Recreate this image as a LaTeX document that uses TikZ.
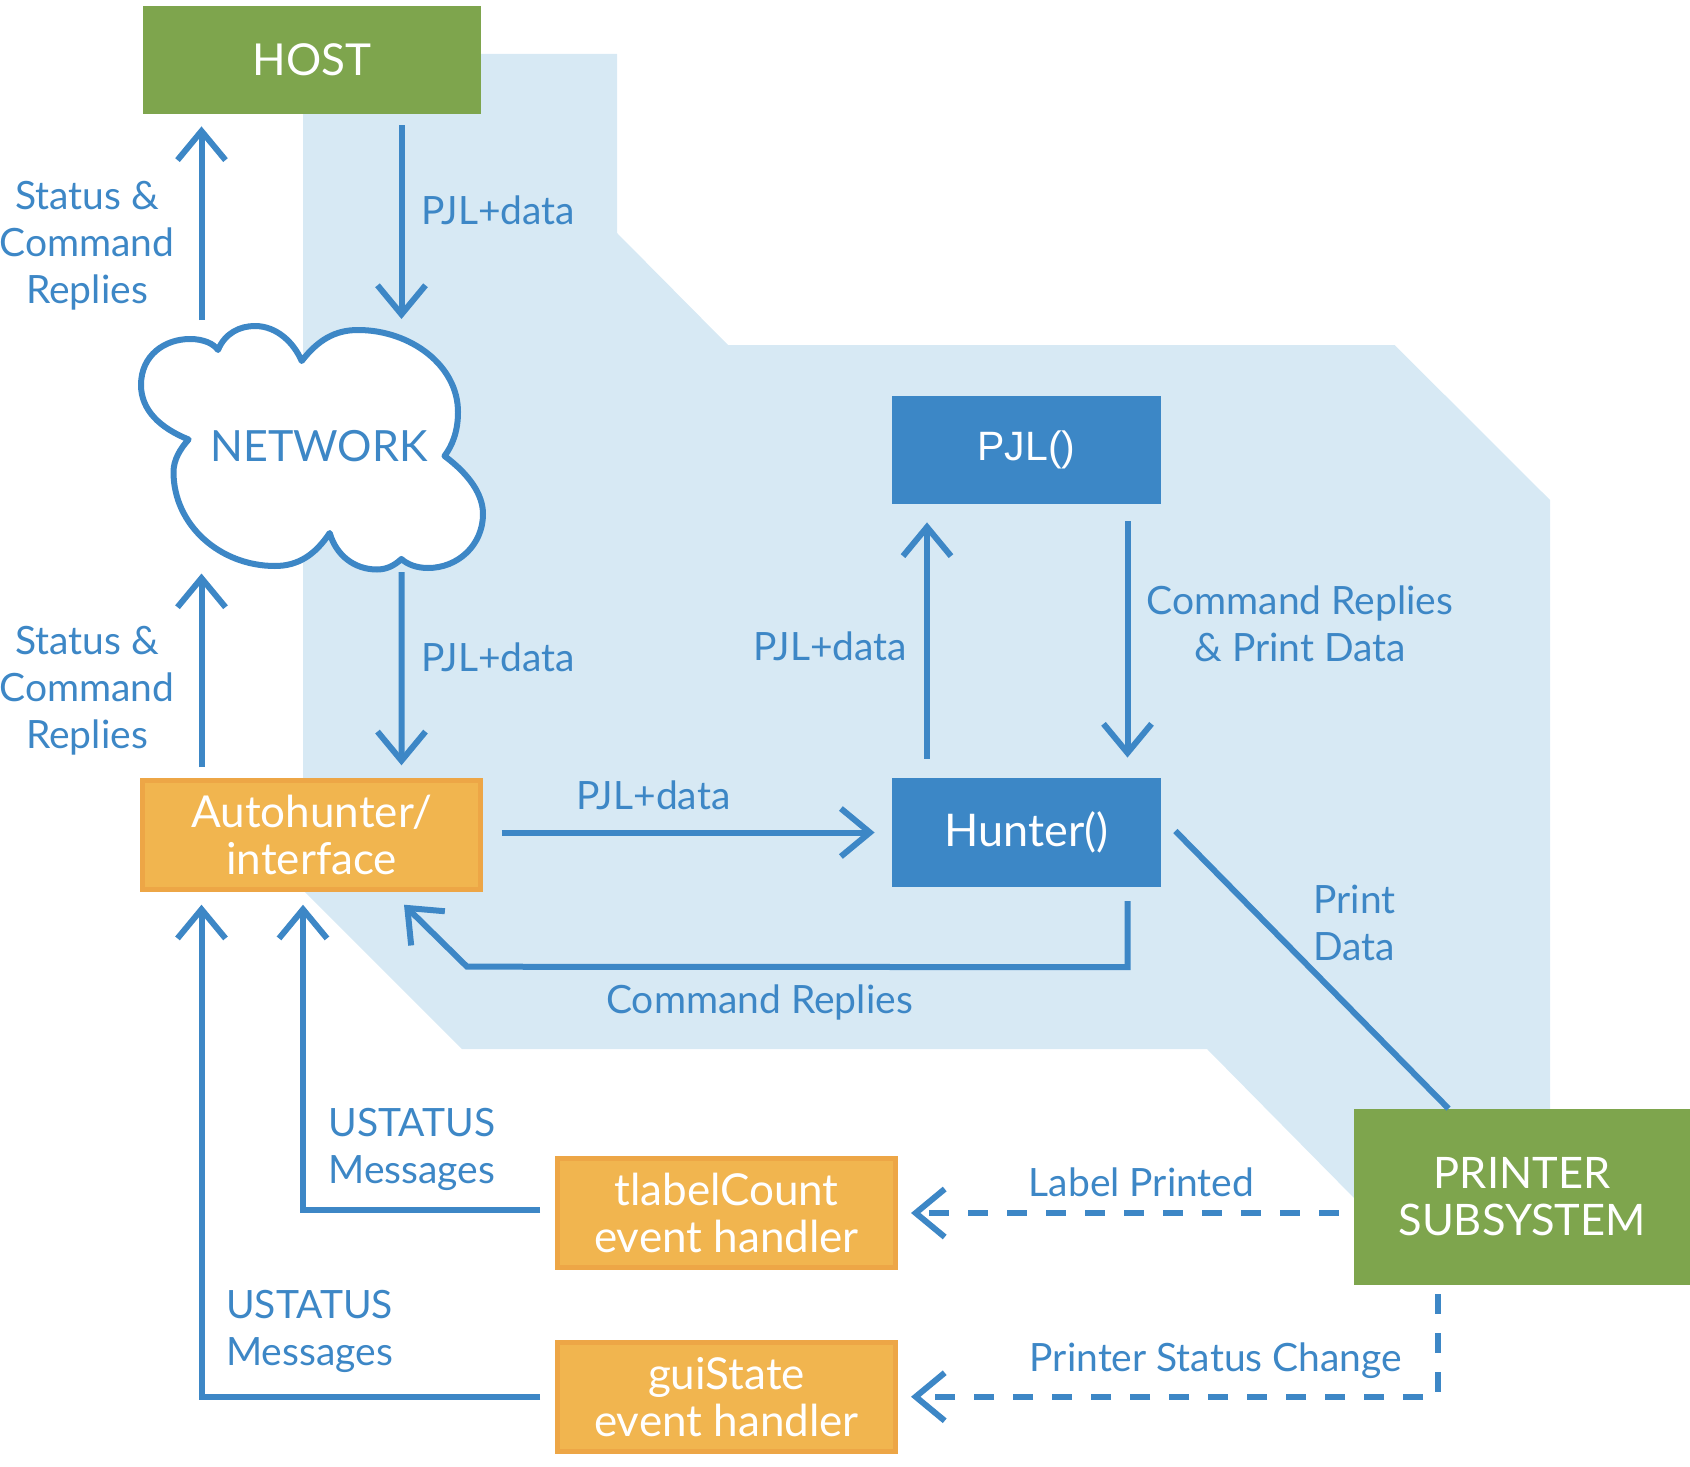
\documentclass[tikz,border=0pt]{standalone}
\usepackage{fontspec}
\setmainfont{Lato}
\newfontfamily\arialf{Liberation Sans}
\usetikzlibrary{arrows.meta,calc}
\definecolor{hostgreen}{RGB}{126,165,77}
\definecolor{boxblue}{RGB}{60,135,198}
\definecolor{lineblue}{RGB}{61,135,198}
\definecolor{bgblue}{RGB}{215,233,244}
\definecolor{orfill}{RGB}{241,181,79}
\definecolor{orborder}{RGB}{237,166,70}
\begin{document}
\begin{tikzpicture}[x=0.5pt,y=-0.5pt,
  arr/.style={draw=lineblue, line width=3pt,
    -{Straight Barb[length=14.5pt,width=24pt,line cap=butt,line join=miter]}},
  dasharr/.style={arr, dash pattern=on 10pt off 9.5pt},
  plainline/.style={draw=lineblue, line width=3pt},
  lbl/.style={text=lineblue, font=\fontsize{19.5pt}{23.5pt}\selectfont, align=center, inner sep=0pt},
  greenbox/.style={fill=hostgreen, text=white, inner sep=0pt, align=center,
    font=\fontsize{22pt}{22pt}\selectfont},
  bluebox/.style={fill=boxblue, text=white, inner sep=0pt, align=center,
    minimum width=134.5pt, minimum height=54.25pt, font=\fontsize{22.5pt}{24pt}\selectfont},
  orangebox/.style={fill=orfill, draw=orborder, line width=2.5pt, text=white, inner sep=0pt,
    align=center, minimum width=169pt, minimum height=54.5pt,
    font=\fontsize{22pt}{23.5pt}\selectfont}
]
\useasboundingbox (0,0) rectangle (1690,1466);

% background region
\fill[bgblue] (303,53.8) -- (617,53.8) -- (617,233) -- (728,345) -- (1394.6,345)
  -- (1550,500) -- (1550,1200) -- (1356,1200) -- (1207,1049) -- (462,1049)
  -- (303,890) -- cycle;

% cloud
\draw[line width=3pt, draw=lineblue, fill=white, line join=round]
 (188.6,439.5) .. controls (160,428) and (141,410) .. (141,385)
 .. controls (141,355) and (165,339) .. (190,339)
 .. controls (204,339) and (214,344) .. (218,350)
 .. controls (225,333) and (240,326) .. (255,326)
 .. controls (277,326) and (294,343) .. (301.7,361)
 .. controls (318,340) and (335,330) .. (358,330)
 .. controls (410,330) and (458,365) .. (458,412)
 .. controls (458,432) and (452,446) .. (444.5,456)
 .. controls (470,475) and (483,495) .. (483,514)
 .. controls (483,545) and (458,568) .. (428,568)
 .. controls (416,568) and (407,564) .. (401.4,559)
 .. controls (394,566) and (386,569.5) .. (377,569.5)
 .. controls (354,569.5) and (336,555) .. (329.7,533)
 .. controls (315,555) and (298,566) .. (275,566)
 .. controls (220,566) and (173.5,525) .. (173.5,472)
 .. controls (173.5,460) and (180,449) .. (188.6,439.5) -- cycle;
\node[text=lineblue, inner sep=0pt, font=\fontsize{21.5pt}{24pt}\selectfont] (net) at (319,446.5) {NETWORK};

% boxes
\node[greenbox, minimum width=169.2pt, minimum height=54pt] (host) at (312,59.6) {HOST};
\node[bluebox, font=\arialf\fontsize{20.5pt}{24pt}\selectfont] (pjl) at (1026.5,449.75) {PJL()};
\node[bluebox] (hunter) at (1026.5,832.5) {Hunter()};
\node[orangebox] (auto) at (311.7,834.7) {Autohunter/\\interface};
\node[orangebox] (tlabel) at (726.5,1213) {tlabelCount\\event handler};
\node[orangebox] (gui) at (726.5,1396.75) {guiState\\event handler};
\node[greenbox, minimum width=168pt, minimum height=88pt, font=\fontsize{21.7pt}{23.5pt}\selectfont]
  (printer) at (1522,1197) {PRINTER\\SUBSYSTEM};

% connectors
\draw[arr] ($(net)+(-117.5,-126.5)$) -- ($(host.south)+(-110.5,12.4)$);
\draw[arr] ($(host.south)+(89.5,11.4)$) -- ($(net)+(82.5,-127.5)$);
\draw[arr] ($(auto.north)+(-110.2,-10.4)$) -- ($(net)+(-117.5,127)$);
\draw[arr] ($(net)+(82.5,125.5)$) -- ($(auto.north)+(89.8,-12.4)$);
\draw[arr] ($(auto.east |- hunter.west)+(18.6,0)$) -- ($(hunter.west)+(-17,0)$);
\draw[arr] ($(hunter.north)+(-99.5,-19)$) -- ($(pjl.south)+(-99.5,18)$);
\draw[arr] ($(pjl.south)+(101,16.6)$) -- ($(hunter.north)+(101,-20.3)$);
\draw[arr] ($(hunter.south)+(101,14)$) -- ++(0,66) -- ($(auto.south)+(92.3,13)+(63,62)$) -- ($(auto.south)+(92.3,13)$);
\draw[plainline] ($(hunter.east)+(14,-1.5)$) -- ($(printer.north)+(-73.5,0)$);
\draw[dasharr] ($(printer.west |- tlabel.east)+(-15,0)$) -- ($(tlabel.east)+(13,0)$);
\draw[dasharr] ($(printer.south)+(-84.3,9)$) |- ($(gui.east)+(13,0)$);
\draw[arr] ($(tlabel.west)+(-15,-3)$) -| ($(auto.south)+(-8.7,13)$);
\draw[arr] ($(gui.west)+(-15,0)$) -| ($(auto.south)+(-110.2,13)$);

% labels
\node[lbl] (l1) at (87,245.5) {Status \&\\Command\\Replies};
\node[lbl] (l2) at (87,690.5) {Status \&\\Command\\Replies};
\node[lbl, anchor=west] (l3) at (421,210) {PJL+data};
\node[lbl, anchor=west] (l4) at (421,657.5) {PJL+data};
\node[lbl] (l5) at (653.5,795) {PJL+data};
\node[lbl, anchor=east] (l6) at (907.5,646.7) {PJL+data};
\node[lbl] (l7) at (1300,624) {Command Replies\\\& Print Data};
\node[lbl] (l8) at (759.5,1002) {Command Replies};
\node[lbl, align=left, anchor=west] (l9) at (1313,922.5) {Print\\Data};
\node[lbl] (l10) at (1141.5,1182) {Label Printed};
\node[lbl] (l11) at (1216,1361) {Printer Status Change};
\node[lbl] (l12) at (412,1149.5) {USTATUS\\Messages};
\node[lbl] (l13) at (309.5,1331.5) {USTATUS\\Messages};
\end{tikzpicture}
\end{document}
